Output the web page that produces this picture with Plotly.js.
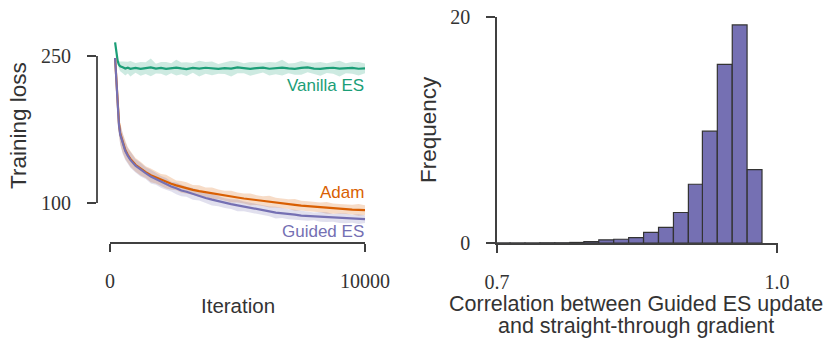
<!DOCTYPE html>
<html>
<head>
<meta charset="utf-8">
<script src="https://cdn.plot.ly/plotly-3.0.1.min.js"></script>
<style>html,body{margin:0;padding:0;background:#fff;}#chart{width:824px;height:339px;}</style>
</head>
<body>
<div id="chart"></div>
<script>
// ---------- data: left panel (training loss vs iteration) ----------
const iterations = [200, 250, 300, 350, 400, 500, 600, 700, 800, 1000, 1200, 1400, 1600, 1800, 2000, 2200, 2400, 2600, 2800, 3000,
  3250, 3500, 3750, 4000, 4250, 4500, 4750, 5000, 5250, 5500, 5750, 6000, 6250, 6500, 6750, 7000, 7250, 7500, 7750, 8000,
  8250, 8500, 8750, 9000, 9250, 9500, 9750, 10000];

const vanillaES = [264, 253, 245, 241, 239.5, 238.5, 237.2, 238.1, 237.0, 237.9, 236.8, 237.6, 238.4, 237.1, 237.8, 236.9, 237.5, 238.2, 237.3, 236.7,
  237.9, 237.2, 238.0, 237.4, 236.8, 237.7, 237.1, 238.3, 237.5, 236.9, 237.6, 238.1, 237.0, 237.4, 238.2, 237.3, 236.9, 237.8, 238.4, 237.2,
  236.8, 237.6, 238.0, 237.1, 237.5, 237.9, 237.0, 237.3];
const vanillaSpread = [1, 2, 3, 4, 5, 6, 7, 6, 8, 5, 7, 6, 9, 5, 6, 7, 5, 8, 6, 7,
  5, 8, 6, 7, 5, 6, 8, 6, 5, 7, 6, 5, 7, 6, 8, 5, 6, 7, 5, 6,
  7, 5, 6, 8, 5, 6, 7, 5];

const adam = [248, 224, 198, 182, 171, 161, 154, 149, 145, 139, 135, 131.5, 128.3, 126, 123.5, 121.8, 119.6, 118, 116.4, 115.2,
  113.4, 112.1, 110.9, 109.7, 108.8, 107.4, 106.5, 105.6, 104.6, 103.7, 102.9, 102.0, 101.3, 100.3, 99.6, 98.8, 98.1, 97.3, 96.7, 96.0,
  95.6, 95.0, 94.4, 94.1, 93.7, 93.3, 93.0, 92.8];
const adamSpread = [2, 8, 10, 11, 11, 10, 9, 8, 8, 7, 7, 6, 7, 6, 6, 7, 6, 5, 6, 6,
  5, 6, 5, 6, 5, 5, 6, 5, 5, 6, 5, 5, 6, 5, 5, 5, 6, 5, 5, 5,
  5, 6, 5, 5, 5, 5, 6, 5];

const guidedES = [248, 222, 196, 180, 170, 160, 153, 148, 144, 138, 134, 130.5, 127, 124.5, 121.5, 119.5, 116.8, 115, 112.8, 111.5,
  109.2, 107.6, 105.1, 103.4, 101.8, 99.9, 98.8, 97.6, 96.5, 95.3, 93.6, 92.6, 91.5, 90.2, 89.7, 88.5, 88.1, 87.2, 86.8, 86.3,
  85.9, 85.5, 84.9, 84.6, 84.3, 83.9, 83.6, 83.5];
const guidedSpread = [2, 8, 10, 11, 10, 10, 9, 8, 8, 7, 7, 6, 7, 6, 6, 6, 5, 6, 6, 5,
  6, 5, 5, 6, 5, 5, 5, 6, 5, 5, 5, 5, 5, 6, 5, 5, 5, 5, 5, 4,
  5, 5, 4, 5, 5, 4, 5, 4];

const xTickVals = [0, 10000];
const xTickText = ['0', '10000'];
const yTickVals = [100, 250];
const yTickText = ['100', '250'];

// ---------- data: right panel (histogram of correlations) ----------
const binCenters = [0.706, 0.722, 0.738, 0.754, 0.770, 0.786, 0.801, 0.817, 0.833, 0.849, 0.865, 0.881, 0.897, 0.913, 0.928, 0.944, 0.960, 0.976];
const frequency = [0.01, 0.01, 0.01, 0.02, 0.02, 0.05, 0.12, 0.28, 0.33, 0.47, 0.94, 1.38, 2.7, 5.2, 9.9, 15.8, 19.3, 6.5];
const binWidth = 0.01587;
const x2TickVals = [0.7, 1.0];
const x2TickText = ['0.7', '1.0'];
const y2TickVals = [0, 20];
const y2TickText = ['0', '20'];

// ---------- build ----------
const W = 824, H = 339;
const px = v => v / W;
const py = v => (H - v) / H;

const C_GREEN = '#1b9e77', C_ORANGE = '#d95f02', C_PURPLE = '#7570b3';
const AX = '#404040';
const SERIF = 'Liberation Serif, Times New Roman, serif';
const SANS = 'Liberation Sans, Arial, Helvetica, sans-serif';

function band(mean, spread, fill) {
  const lo = mean.map((m, i) => m - spread[i]);
  const hi = mean.map((m, i) => m + spread[i]);
  return [
    {x: iterations, y: lo, type: 'scatter', mode: 'lines', line: {width: 0}, hoverinfo: 'skip', showlegend: false, xaxis: 'x', yaxis: 'y'},
    {x: iterations, y: hi, type: 'scatter', mode: 'lines', line: {width: 0}, fill: 'tonexty', fillcolor: fill, hoverinfo: 'skip', showlegend: false, xaxis: 'x', yaxis: 'y'}
  ];
}
function line(y, color) {
  return {x: iterations, y: y, type: 'scatter', mode: 'lines', line: {color: color, width: 2.2}, showlegend: false, xaxis: 'x', yaxis: 'y'};
}

const traces = [
  ...band(vanillaES, vanillaSpread, 'rgba(27,158,119,0.22)'),
  ...band(adam, adamSpread, 'rgba(217,95,2,0.22)'),
  ...band(guidedES, guidedSpread, 'rgba(117,112,179,0.22)'),
  line(vanillaES, C_GREEN),
  line(adam, C_ORANGE),
  line(guidedES, C_PURPLE),
  {x: binCenters, y: frequency, type: 'bar', width: binWidth, marker: {color: C_PURPLE, line: {color: '#333333', width: 1.2}},
   showlegend: false, xaxis: 'x2', yaxis: 'y2'}
];

// left panel scales: 0 -> px 110, 10000 -> px 365 ; 250 -> py 56, 100 -> py 203
const xPerPx = 10000 / 255;
const yPerPx = 150 / 147;
const xRange = [0 - (110 - 97) * xPerPx, 10000 + (366 - 365) * xPerPx];
const yRange = [100 - (243 - 203) * yPerPx, 250 + (56 - 40) * yPerPx];

const tickFont = {family: SERIF, size: 20, color: '#333'};
const titleFont = {family: SANS, size: 20.5, color: '#333'};
const vTitleFont = {family: SANS, size: 22.5, color: '#333'};
const corrFont = {family: SANS, size: 21.5, color: '#333'};

const layout = {
  width: W, height: H,
  margin: {l: 0, r: 0, t: 0, b: 0},
  paper_bgcolor: '#fff', plot_bgcolor: '#fff',
  showlegend: false,
  bargap: 0,
  xaxis: {domain: [px(97), px(366)], range: xRange, tickvals: xTickVals, ticktext: xTickText,
    ticks: 'outside', ticklen: 8, tickwidth: 1.8, tickcolor: AX, showline: false, showgrid: false, zeroline: false,
    tickfont: tickFont, ticklabelstandoff: 12, anchor: 'y', fixedrange: true},
  yaxis: {domain: [py(243), py(40)], range: yRange, tickvals: yTickVals, ticktext: yTickText,
    ticks: 'outside', ticklen: 9, tickwidth: 1.8, tickcolor: AX, showline: false, showgrid: false, zeroline: false,
    tickfont: tickFont, ticklabelstandoff: 12, anchor: 'x', fixedrange: true},
  xaxis2: {domain: [px(497), px(778)], range: [0.7, 1.0 + 1 * 0.3 / 280], tickvals: x2TickVals, ticktext: x2TickText,
    ticks: 'outside', ticklen: 8, tickwidth: 1.8, tickcolor: AX, showline: true, linecolor: AX, linewidth: 1.8,
    showgrid: false, zeroline: false, tickfont: tickFont, ticklabelstandoff: 12, anchor: 'y2', fixedrange: true},
  yaxis2: {domain: [py(243), py(17)], range: [0, 20], tickvals: y2TickVals, ticktext: y2TickText,
    ticks: 'outside', ticklen: 9, tickwidth: 1.8, tickcolor: AX, showline: true, linecolor: AX, linewidth: 1.8,
    showgrid: false, zeroline: false, tickfont: tickFont, ticklabelstandoff: 12, anchor: 'x2', fixedrange: true},
  shapes: [
    {type: 'line', xref: 'x domain', yref: 'y', x0: 0, x1: 0, y0: yTickVals[0], y1: yTickVals[1], line: {color: AX, width: 1.8}},
    {type: 'line', xref: 'x', yref: 'y domain', x0: xTickVals[0], x1: xTickVals[1], y0: 0, y1: 0, line: {color: AX, width: 1.8}}
  ],
  annotations: [
    {text: 'Vanilla ES', xref: 'x', yref: 'paper', x: xRange[1], y: py(85), xanchor: 'right', yanchor: 'middle', showarrow: false,
     font: {family: SANS, size: 17, color: C_GREEN}},
    {text: 'Adam', xref: 'x', yref: 'paper', x: xRange[1], y: py(193), xanchor: 'right', yanchor: 'middle', showarrow: false,
     font: {family: SANS, size: 17, color: C_ORANGE}},
    {text: 'Guided ES', xref: 'x', yref: 'paper', x: xRange[1], y: py(231.5), xanchor: 'right', yanchor: 'middle', showarrow: false,
     font: {family: SANS, size: 17, color: C_PURPLE}},
    {text: 'Iteration', xref: 'paper', yref: 'paper', x: px(237.5), y: py(305.5), xanchor: 'center', yanchor: 'middle', showarrow: false, font: titleFont},
    {text: 'Training loss', xref: 'paper', yref: 'paper', x: px(18), y: py(126), xanchor: 'center', yanchor: 'middle', textangle: -90, showarrow: false, font: vTitleFont},
    {text: 'Frequency', xref: 'paper', yref: 'paper', x: px(428), y: py(130), xanchor: 'center', yanchor: 'middle', textangle: -90, showarrow: false, font: vTitleFont},
    {text: 'Correlation between Guided ES update', xref: 'paper', yref: 'paper', x: px(635.5), y: py(304), xanchor: 'center', yanchor: 'middle', showarrow: false, font: corrFont},
    {text: 'and straight-through gradient', xref: 'paper', yref: 'paper', x: px(635.5), y: py(326), xanchor: 'center', yanchor: 'middle', showarrow: false, font: corrFont}
  ]
};

Plotly.newPlot('chart', traces, layout, {displayModeBar: false, staticPlot: true});
</script>
</body>
</html>
